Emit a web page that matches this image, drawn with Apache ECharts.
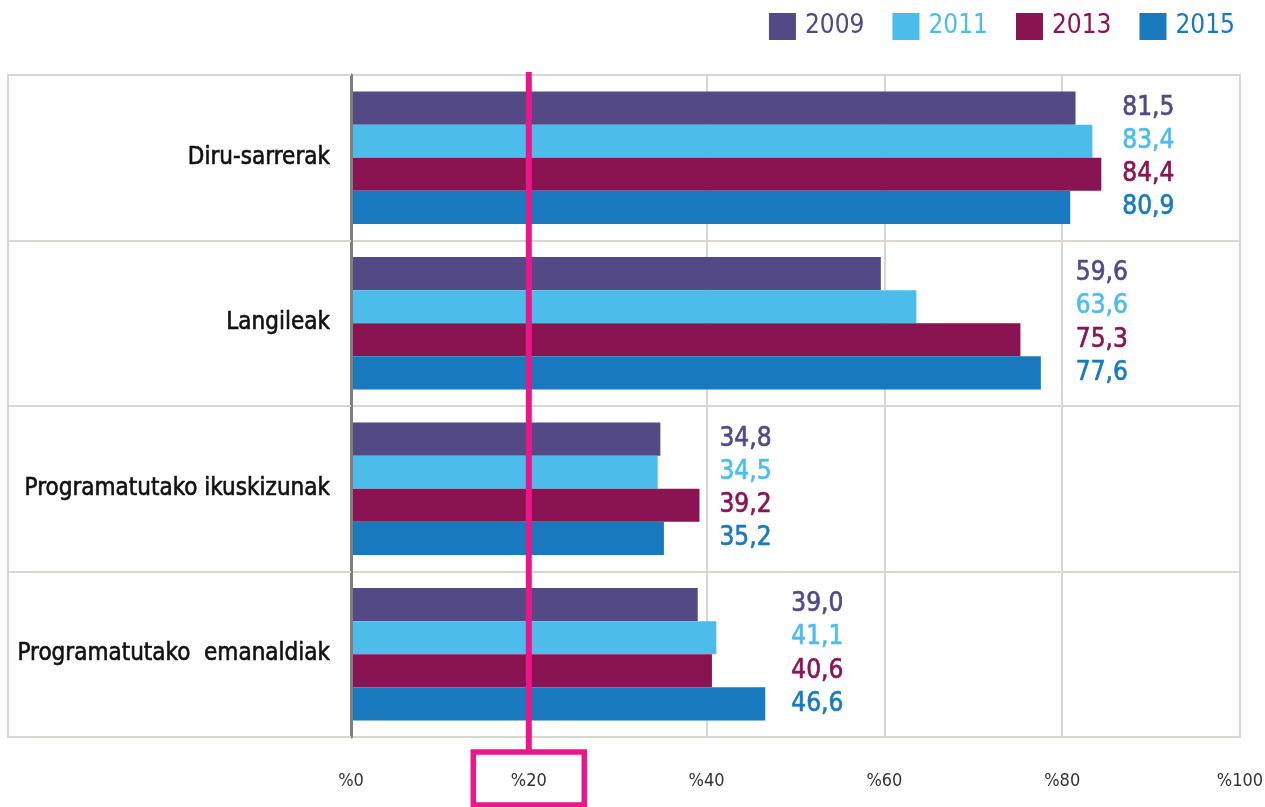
<!DOCTYPE html>
<html>
<head>
<meta charset="utf-8">
<script src="https://cdn.jsdelivr.net/npm/echarts@6/dist/echarts.min.js"></script>
<style>
html,body{margin:0;padding:0;background:#fff;}
#chart{width:1265px;height:807px;}
</style>
</head>
<body>
<div id="chart"></div>
<script>
const categories = ['Diru-sarrerak', 'Langileak', 'Programatutako ikuskizunak', 'Programatutako  emanaldiak'];
const years = ['2009', '2011', '2013', '2015'];
const values2009 = [81.5, 59.6, 34.8, 39.0];
const values2011 = [83.4, 63.6, 34.5, 41.1];
const values2013 = [84.4, 75.3, 39.2, 40.6];
const values2015 = [80.9, 77.6, 35.2, 46.6];
const xTicks = [0, 20, 40, 60, 80, 100];
const highlightTick = 20;

const seriesValues = [values2009, values2011, values2013, values2015];
const colors = ['#524985', '#4cbdeb', '#8a1352', '#1879bf'];
const labelGapPx = [21, 35, 20, 26];
const FONT = "'Liberation Sans Narrow', 'DejaVu Sans Condensed', 'Roboto', sans-serif";
const PINK = '#ec168c';
const BORDER = '#d9d6d2';

const fmt = v => v.toFixed(1).replace('.', ',');

const chart = echarts.init(document.getElementById('chart'));

const option = {
  animation: false,
  backgroundColor: '#fff',
  legend: {
    top: 8,
    right: 25,
    icon: 'rect',
    itemWidth: 27,
    itemHeight: 27,
    itemGap: 28,
    textStyle: { fontFamily: FONT, fontSize: 26, padding: [0, 0, 0, 4] },
    data: years.map((y, i) => ({ name: y, textStyle: { color: colors[i] } }))
  },
  grid: [
    { left: 351, right: 25, top: 75, bottom: 70, containLabel: false, outerBoundsMode: 'none' },
    { left: 8, right: 25, top: 75, bottom: 70, show: true, borderColor: BORDER, borderWidth: 2, backgroundColor: 'transparent', outerBoundsMode: 'none' }
  ],
  xAxis: [
    {
      type: 'value', gridIndex: 0, min: xTicks[0], max: xTicks[xTicks.length - 1], interval: 20,
      axisLine: { show: false }, axisTick: { show: false },
      splitLine: { show: true, lineStyle: { color: BORDER, width: 2 } },
      axisLabel: { formatter: v => '%' + v, fontFamily: FONT, fontSize: 18, color: '#333', margin: 35 }
    },
    { type: 'value', gridIndex: 1, show: false }
  ],
  yAxis: [
    {
      type: 'category', gridIndex: 0, data: categories, inverse: true,
      axisLine: { show: true, lineStyle: { color: '#7f7f7f', width: 3 } },
      axisTick: { show: true, length: 343, lineStyle: { color: BORDER, width: 2 } },
      splitLine: { show: true, lineStyle: { color: BORDER, width: 2 } },
      axisLabel: { fontFamily: FONT, fontSize: 24, color: '#111', margin: 21, textBorderColor: '#111', textBorderWidth: 0.6 },
      z: 5
    },
    { type: 'category', gridIndex: 1, show: false, data: categories }
  ],
  series: years.map((y, s) => ({
    name: y,
    type: 'bar',
    xAxisIndex: 0,
    yAxisIndex: 0,
    barGap: '0%',
    barCategoryGap: '20%',
    itemStyle: { color: colors[s] },
    label: {
      show: true, position: 'right', distance: 20,
      formatter: p => fmt(p.value),
      fontFamily: FONT, fontSize: 26, color: colors[s],
      textBorderColor: colors[s], textBorderWidth: 0.6
    },
    data: seriesValues[s].slice()
  }))
};

chart.setOption(option);

function layoutExtras() {
  const px = v => chart.convertToPixel({ xAxisIndex: 0 }, v);
  const newSeries = years.map((y, s) => ({
    data: seriesValues[s].map((v, i) => {
      const groupMax = Math.max(...seriesValues.map(arr => arr[i]));
      const anchor = px(groupMax) + labelGapPx[i];
      return { value: v, label: { distance: anchor - px(v) } };
    })
  }));
  const hx = px(highlightTick);
  chart.setOption({
    series: newSeries,
    graphic: [
      { type: 'line', z: 100, shape: { x1: hx, y1: 72, x2: hx, y2: 752 }, style: { stroke: PINK, lineWidth: 6 } },
      { type: 'rect', z: 100, shape: { x: hx - 55.5, y: 752, width: 111, height: 53 }, style: { stroke: PINK, lineWidth: 5.5, fill: 'none' } }
    ]
  });
}
layoutExtras();
</script>
</body>
</html>
